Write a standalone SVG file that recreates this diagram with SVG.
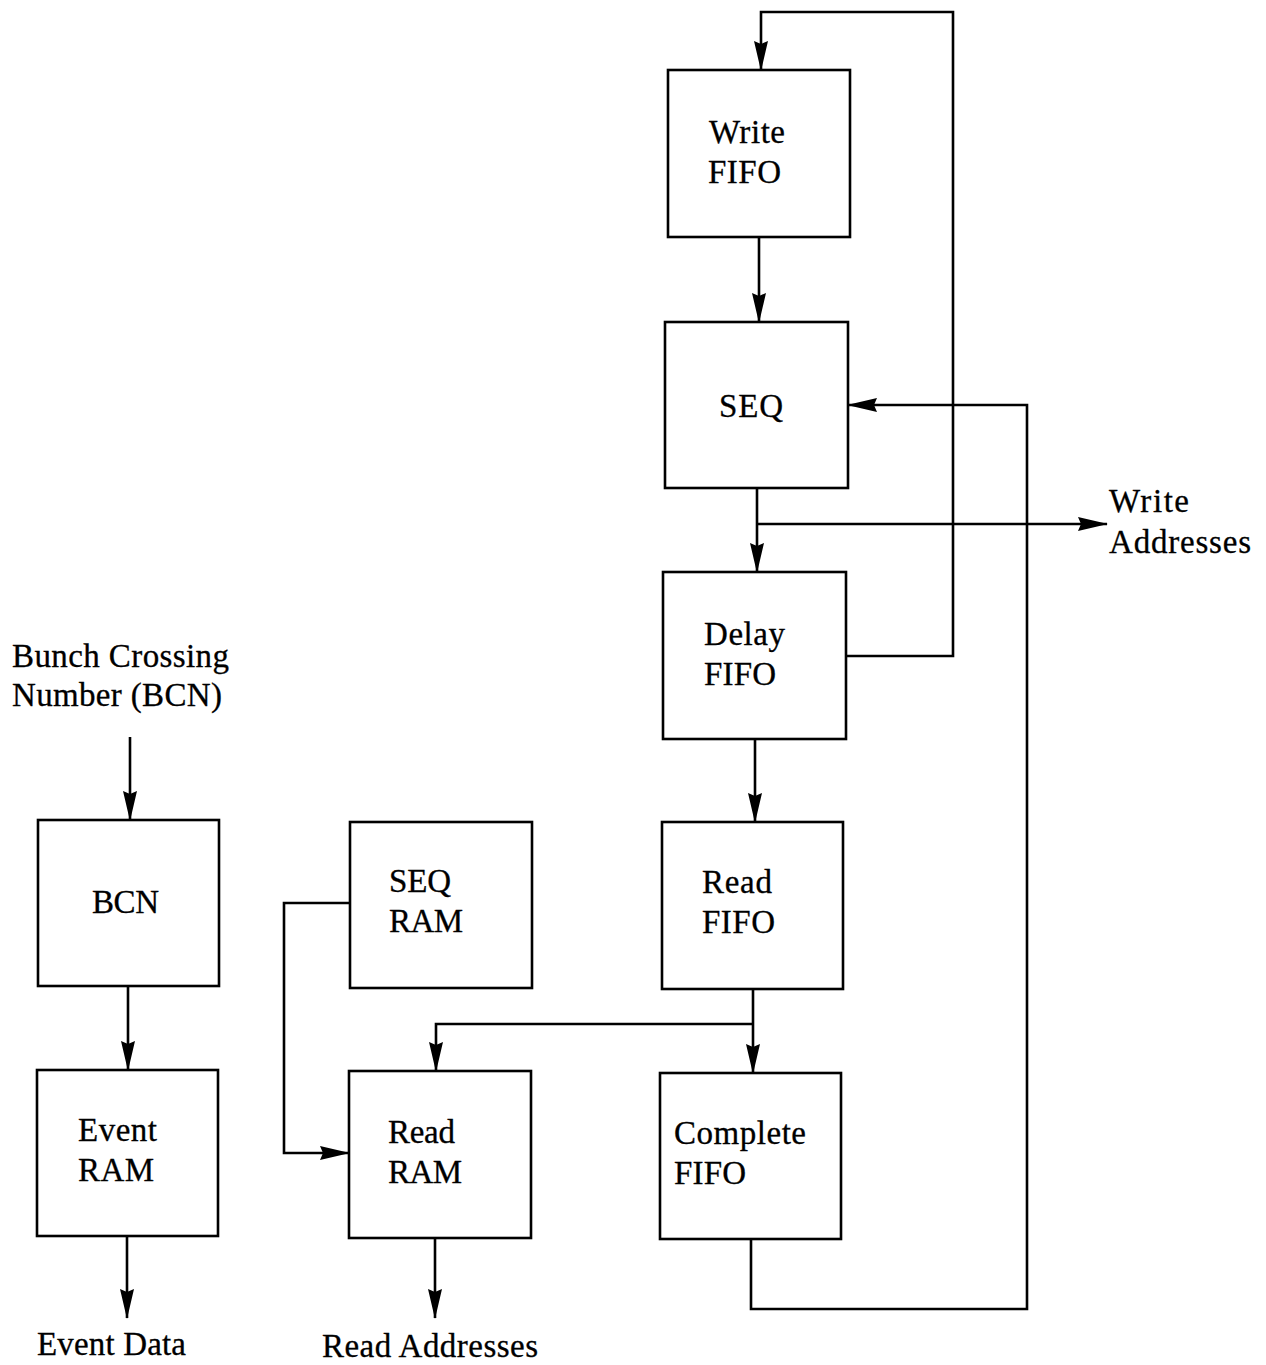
<svg xmlns="http://www.w3.org/2000/svg" width="1266" height="1365" viewBox="0 0 1266 1365">
<defs>
<marker id="ah" markerWidth="30" markerHeight="14" refX="29" refY="7" orient="auto" markerUnits="userSpaceOnUse">
<path d="M0,0 L30,7 L0,14 L3,7 Z" fill="#000"/>
</marker>
<style>
.box{fill:#fff;stroke:#000;stroke-width:2.6}
.c{fill:none;stroke:#000;stroke-width:2.6}
.a{marker-end:url(#ah)}
text{font-family:"Liberation Serif","Times New Roman",serif;font-size:33px;fill:#000;stroke:#000;stroke-width:0.3}
</style>
</defs>
<rect width="1266" height="1365" fill="#fff"/>
<g id="connectors">
<polyline class="c a" points="846,656 953,656 953,12 761,12 761,70"/>
<polyline class="c a" points="759,237 759,322"/>
<polyline class="c a" points="757,488 757,572"/>
<polyline class="c a" points="757,524 1107,524"/>
<polyline class="c a" points="755,739 755,822"/>
<polyline class="c a" points="753,989 753,1073"/>
<polyline class="c a" points="753,1024 436,1024 436,1071"/>
<polyline class="c a" points="350,903 284,903 284,1153 349,1153"/>
<polyline class="c a" points="751,1239 751,1309 1027,1309 1027,405 848,405"/>
<polyline class="c a" points="130,737 130,820"/>
<polyline class="c a" points="128,986 128,1070"/>
<polyline class="c a" points="127,1236 127,1318"/>
<polyline class="c a" points="435,1238 435,1318"/>
</g>
<g id="write-fifo">
<rect class="box" x="668" y="70" width="182" height="167"/>
<text x="709" y="143" textLength="76">Write</text>
<text x="708" y="183" textLength="73">FIFO</text>
</g>
<g id="seq">
<rect class="box" x="665" y="322" width="183" height="166"/>
<text x="719" y="417" textLength="64">SEQ</text>
</g>
<g id="delay-fifo">
<rect class="box" x="663" y="572" width="183" height="167"/>
<text x="704" y="645" textLength="81">Delay</text>
<text x="704" y="685" textLength="72">FIFO</text>
</g>
<g id="read-fifo">
<rect class="box" x="662" y="822" width="181" height="167"/>
<text x="702" y="893" textLength="70">Read</text>
<text x="702" y="933" textLength="73">FIFO</text>
</g>
<g id="complete-fifo">
<rect class="box" x="660" y="1073" width="181" height="166"/>
<text x="674" y="1144" textLength="132">Complete</text>
<text x="674" y="1184" textLength="72">FIFO</text>
</g>
<g id="seq-ram">
<rect class="box" x="350" y="822" width="182" height="166"/>
<text x="389" y="892" textLength="62">SEQ</text>
<text x="389" y="932" textLength="74">RAM</text>
</g>
<g id="read-ram">
<rect class="box" x="349" y="1071" width="182" height="167"/>
<text x="388" y="1143" textLength="67">Read</text>
<text x="388" y="1183" textLength="74">RAM</text>
</g>
<g id="bcn">
<rect class="box" x="38" y="820" width="181" height="166"/>
<text x="92" y="913" textLength="67">BCN</text>
</g>
<g id="event-ram">
<rect class="box" x="37" y="1070" width="181" height="166"/>
<text x="78" y="1141" textLength="79">Event</text>
<text x="78" y="1181" textLength="76">RAM</text>
</g>
<g id="labels">
<text x="12" y="667" textLength="217">Bunch Crossing</text>
<text x="12" y="706" textLength="210">Number (BCN)</text>
<text x="1109" y="512" textLength="80">Write</text>
<text x="1109" y="553" textLength="142">Addresses</text>
<text x="37" y="1355" textLength="149">Event Data</text>
<text x="322" y="1357" textLength="216">Read Addresses</text>
</g>
</svg>
